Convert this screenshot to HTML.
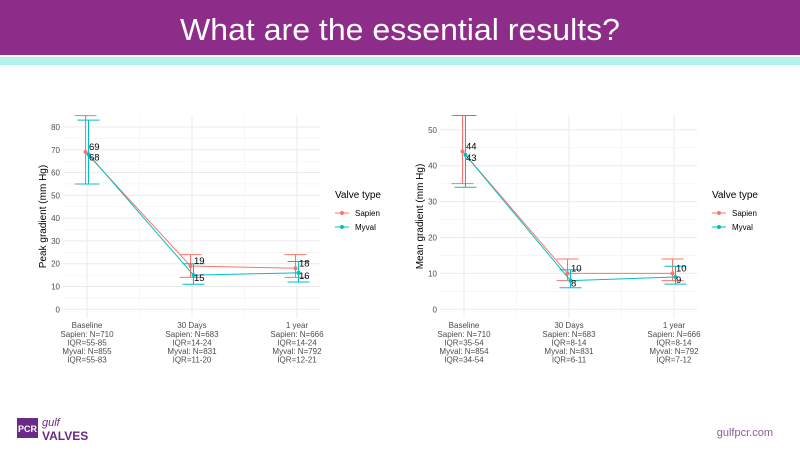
<!DOCTYPE html>
<html><head><meta charset="utf-8"><style>
body{margin:0;width:800px;height:450px;background:#fff;overflow:hidden;font-family:"Liberation Sans",sans-serif}
svg text{font-family:"Liberation Sans",sans-serif}
</style></head><body>
<svg id="s" width="800" height="450" xmlns="http://www.w3.org/2000/svg">
<rect x="0" y="0" width="800" height="55" fill="#8e2c89"/>
<rect x="0" y="57" width="800" height="8" fill="#b4f2f0"/>
<text x="400" y="40" text-anchor="middle" font-size="31" fill="#fff" textLength="440" lengthAdjust="spacingAndGlyphs">What are the essential results?</text>
<g>
<rect x="17" y="418" width="21" height="20" fill="#6b2a86"/>
<text x="27.5" y="432" font-size="9" fill="#fff" text-anchor="middle" font-weight="bold">PCR</text>
<text x="42" y="426" font-size="11" font-style="italic" fill="#6b2a86">gulf</text>
<text x="42" y="440" font-size="12" font-weight="bold" fill="#6b2a86">VALVES</text>
</g>
<text x="773" y="436" text-anchor="end" font-size="11" fill="#8e5a9a">gulfpcr.com</text>
<g id="c1"></g><g id="c2"></g>
</svg>
<script>
const cats=["Baseline","30 Days","1 year"];
const peakSapien=[69,19,18];const peakSapienLo=[55,14,14];const peakSapienHi=[85,24,24];
const peakMyval=[68,15,16];const peakMyvalLo=[55,11,12];const peakMyvalHi=[83,20,21];
const peakTicks=[0,10,20,30,40,50,60,70,80];
const peakLabels=[["Sapien: N=710","IQR=55-85","Myval: N=855","IQR=55-83"],["Sapien: N=683","IQR=14-24","Myval: N=831","IQR=11-20"],["Sapien: N=666","IQR=14-24","Myval: N=792","IQR=12-21"]];
const meanSapien=[44,10,10];const meanSapienLo=[35,8,8];const meanSapienHi=[54,14,14];
const meanMyval=[43,8,9];const meanMyvalLo=[34,6,7];const meanMyvalHi=[54,11,12];
const meanTicks=[0,10,20,30,40,50];
const meanLabels=[["Sapien: N=710","IQR=35-54","Myval: N=854","IQR=34-54"],["Sapien: N=683","IQR=8-14","Myval: N=831","IQR=6-11"],["Sapien: N=666","IQR=8-14","Myval: N=792","IQR=7-12"]];
const NS="http://www.w3.org/2000/svg";
function mk(p,t,a,txt){const e=document.createElementNS(NS,t);for(const k in a)e.setAttribute(k,a[k]);if(txt!=null)e.textContent=txt;p.appendChild(e);return e;}
function chart(g,o){
 const X=i=>o.x0+i*o.dx; const Y=v=>309.3-v*o.py;
 for(let t=0;t<o.ticks.length-1;t++){const l=mk(g,'line',{x1:o.px0,x2:o.px1,y1:Y(o.ticks[t]+5),y2:Y(o.ticks[t]+5),stroke:'#f2f2f2','stroke-width':0.6});
 }
 o.ticks.forEach(t=>{const l=mk(g,'line',{x1:o.px0,x2:o.px1,y1:Y(t),y2:Y(t),stroke:'#ebebeb','stroke-width':1});
 
 const tx=mk(g,'text',{x:o.px0-3,y:Y(t)+3,'text-anchor':'end','font-size':8,fill:'#4d4d4d'},t);
 });
 for(let i=0;i<2;i++){mk(g,'line',{x1:X(i+0.5),x2:X(i+0.5),y1:o.ytop,y2:318,stroke:'#f2f2f2','stroke-width':0.6});}
 cats.forEach((c,i)=>{const l=mk(g,'line',{x1:X(i),x2:X(i),y1:o.ytop,y2:318,stroke:'#ebebeb'});
 
 const t=mk(g,'text',{x:X(i),y:328,'text-anchor':'middle','font-size':8,fill:'#4d4d4d'},c);
 
 o.lab[i].forEach((s,j)=>{const u=mk(g,'text',{x:X(i),y:337+j*8.5,'text-anchor':'middle','font-size':8,fill:'#4d4d4d'},s);
 });});
 const yt=mk(g,'text',{x:0,y:0,transform:`translate(${o.px0-17},${(o.ytop+318)/2}) rotate(-90)`,'text-anchor':'middle','font-size':10,fill:'#000'},o.title);
 
 const ser=[{n:'Sapien',c:'#f8766d',v:o.s,lo:o.slo,hi:o.shi,d:-1.5,ty:-2},{n:'Myval',c:'#00bfc4',v:o.m,lo:o.mlo,hi:o.mhi,d:1.5,ty:6}];
 ser.forEach(s=>{
  const pl=mk(g,'polyline',{points:s.v.map((v,i)=>(X(i)+s.d)+','+Y(v)).join(' '),fill:'none',stroke:s.c,'stroke-width':1});
  
  s.v.forEach((v,i)=>{const x=X(i)+s.d;
   const eb=mk(g,'path',{d:`M${x-11},${Y(s.lo[i])}H${x+11}M${x},${Y(s.lo[i])}V${Y(s.hi[i])}M${x-11},${Y(s.hi[i])}H${x+11}`,stroke:s.c,fill:'none','stroke-width':1});
   
   const p=mk(g,'circle',{cx:x,cy:Y(v),r:2,fill:s.c});
   });});
 ser.forEach(s=>{s.v.forEach((v,i)=>{
  const t=mk(g,'text',{x:X(i)+2,y:Y(v)+s.ty,'font-size':9.5,fill:'#000'},v);
  });});
 const lx=o.lx;
 const lt=mk(g,'text',{x:lx,y:198,'font-size':10,fill:'#000'},'Valve type');
 
 ser.forEach((s,k)=>{const y=213+k*14;
  const e=mk(g,'g',{});
  mk(e,'line',{x1:lx,x2:lx+14,y1:y,y2:y,stroke:s.c});mk(e,'circle',{cx:lx+7,cy:y,r:2,fill:s.c});
  mk(e,'text',{x:lx+20,y:y+3,'font-size':8,fill:'#000'},s.n);});
}
chart(document.getElementById('c1'),{x0:87,dx:105,py:2.279,ymax:80,ytop:115,px0:63,px1:320,ticks:peakTicks,lab:peakLabels,title:'Peak gradient (mm Hg)',
 s:peakSapien,slo:peakSapienLo,shi:peakSapienHi,m:peakMyval,mlo:peakMyvalLo,mhi:peakMyvalHi,lx:335});
chart(document.getElementById('c2'),{x0:464,dx:105,py:3.59,ymax:50,ytop:115,px0:440,px1:697,ticks:meanTicks,lab:meanLabels,title:'Mean gradient (mm Hg)',
 s:meanSapien,slo:meanSapienLo,shi:meanSapienHi,m:meanMyval,mlo:meanMyvalLo,mhi:meanMyvalHi,lx:712});
</script>
</body></html>
